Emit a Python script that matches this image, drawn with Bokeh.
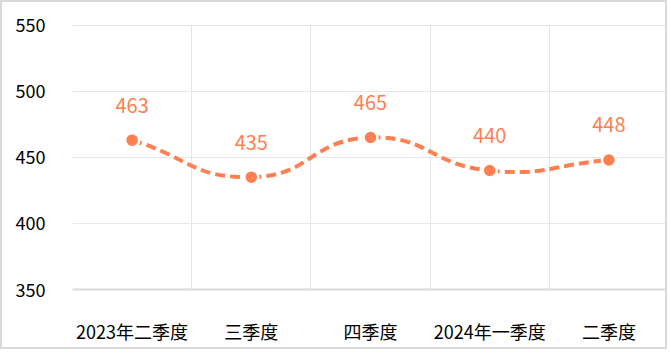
import numpy as np
from bokeh.plotting import figure
from bokeh.models import FixedTicker, Range1d, ColumnDataSource
from bokeh.core.properties import value
from bokeh.embed import file_html
from bokeh.resources import INLINE

categories = ["2023年二季度", "三季度", "四季度", "2024年一季度", "二季度"]
values = [463, 435, 465, 440, 448]
y_ticks = [350, 400, 450, 500, 550]

ORANGE = "#ff7f50"
FONT = "Noto Sans CJK SC"

B = 2
W, H = 671 - 2 * B, 353 - 2 * B
ML, MR, MT, MB = 70, 1, 22, 62
p = figure(width=W, height=H, output_backend="svg", toolbar_location=None,
           x_range=Range1d(0, len(categories)), y_range=Range1d(y_ticks[0], y_ticks[-1] + 0.5),
           min_border_left=ML, min_border_right=MR, min_border_top=MT, min_border_bottom=MB,
           styles={"border": f"{B}px solid #d9d9d9"})
p.outline_line_color = None
p.background_fill_color = "white"
p.border_fill_color = "white"

xs = np.arange(len(categories)) + 0.5
ys = np.array(values, dtype=float)

# smooth curve (bezier) control points, computed in pixel space
fw = W - ML - MR
fh = H - MT - MB
sx = fw / len(categories)
sy = fh / (y_ticks[-1] - y_ticks[0])
px = xs * sx
py = ys * sy
n = len(xs)
smooth = 0.5
cin = []
cout = []
for i in range(n):
    a = max(i - 1, 0)
    b = min(i + 1, n - 1)
    vx = px[b] - px[a]
    vy = py[b] - py[a]
    d0 = np.hypot(px[i] - px[a], py[i] - py[a])
    d1 = np.hypot(px[b] - px[i], py[b] - py[i])
    r = d1 / (d0 + d1) if d0 + d1 > 0 else 0.5
    cin.append((px[i] - vx * smooth * (1 - r), py[i] - vy * smooth * (1 - r)))
    cout.append((px[i] + vx * smooth * r, py[i] + vy * smooth * r))

bz = ColumnDataSource(dict(
    x0=xs[:-1], y0=ys[:-1], x1=xs[1:], y1=ys[1:],
    cx0=[cout[i][0] / sx for i in range(n - 1)],
    cy0=[cout[i][1] / sy for i in range(n - 1)],
    cx1=[cin[i + 1][0] / sx for i in range(n - 1)],
    cy1=[cin[i + 1][1] / sy for i in range(n - 1)],
))

p.ygrid.grid_line_color = "#e6e6e6"
p.xgrid.ticker = FixedTicker(ticks=list(range(len(categories) + 1)))
p.xgrid.grid_line_color = "#e6e6e6"

p.bezier(x0="x0", y0="y0", x1="x1", y1="y1", cx0="cx0", cy0="cy0", cx1="cx1", cy1="cy1",
         source=bz, line_color=ORANGE, line_width=4, line_dash="10 5")

src = ColumnDataSource(dict(x=xs, y=ys, t=[str(v) for v in values]))
p.scatter(x="x", y="y", source=src, size=14, fill_color=ORANGE, line_color="white", line_width=2.5)
p.text(x="x", y="y", text="t", source=src, y_offset=-35, text_align="center",
       text_baseline="middle", text_color=ORANGE, text_font_size="20px",
       text_font=value(FONT))

# axes
p.yaxis.ticker = FixedTicker(ticks=y_ticks)
p.yaxis.axis_line_color = None
p.yaxis.major_tick_line_color = None
p.yaxis.minor_tick_line_color = None
p.yaxis.major_label_standoff = 21
p.yaxis.major_label_text_font = FONT
p.yaxis.major_label_text_font_size = "18px"
p.yaxis.major_label_text_color = "#000000"

p.xaxis.ticker = FixedTicker(ticks=list(xs))
p.xaxis.major_label_overrides = {float(x): c for x, c in zip(xs, categories)}
p.xaxis.axis_line_color = "#d9d9d9"
p.xaxis.axis_line_width = 2
p.xaxis.major_tick_line_color = None
p.xaxis.minor_tick_line_color = None
p.xaxis.major_label_standoff = 22
p.xaxis.major_label_text_font = FONT
p.xaxis.major_label_text_font_size = "18px"
p.xaxis.major_label_text_color = "#000000"

open("out.html", "w").write(file_html(p, INLINE))
